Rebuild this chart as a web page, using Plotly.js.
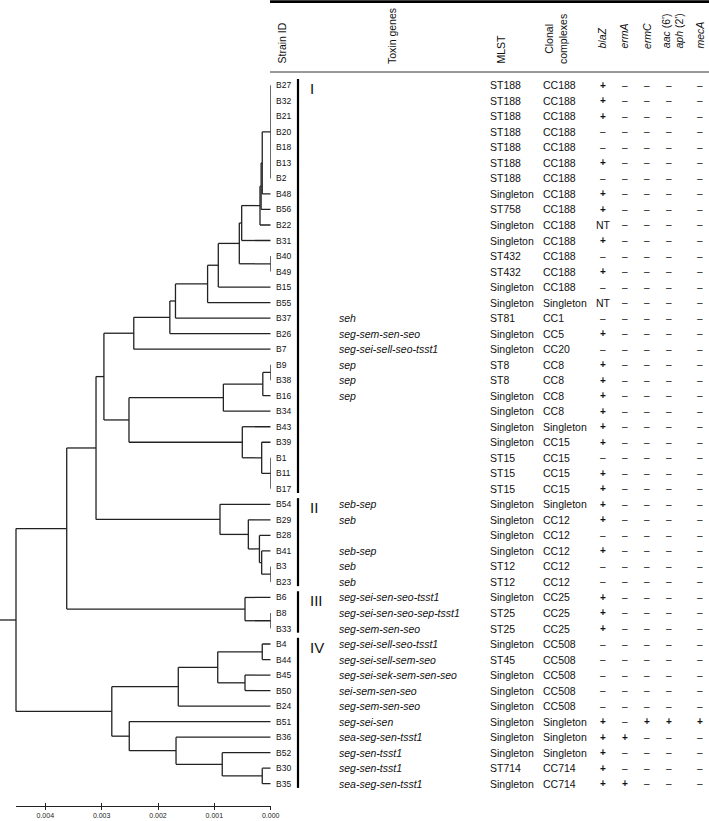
<!DOCTYPE html>
<html>
<head>
<meta charset="utf-8">
<script src="https://cdn.plot.ly/plotly-3.0.1.min.js"></script>
<style>html,body{margin:0;padding:0;background:#fff;}#chart{width:709px;height:821px;}</style>
</head>
<body>
<div id="chart"></div>
<script>
// ---------------- DATA ----------------
const strains = ['B27','B32','B21','B20','B18','B13','B2','B48','B56','B22','B31','B40','B49','B15','B55','B37','B26','B7','B9','B38','B16','B34','B43','B39','B1','B11','B17','B54','B29','B28','B41','B3','B23','B6','B8','B33','B4','B44','B45','B50','B24','B51','B36','B52','B30','B35'];

const toxinGenes = ['','','','','','','','','','','','','','','','seh','seg-sem-sen-seo','seg-sei-sell-seo-tsst1','sep','sep','sep','','','','','','','seb-sep','seb','','seb-sep','seb','seb','seg-sei-sen-seo-tsst1','seg-sei-sen-seo-sep-tsst1','seg-sem-sen-seo','seg-sei-sell-seo-tsst1','seg-sei-sell-sem-seo','seg-sei-sek-sem-sen-seo','sei-sem-sen-seo','seg-sem-sen-seo','seg-sei-sen','sea-seg-sen-tsst1','seg-sen-tsst1','seg-sen-tsst1','sea-seg-sen-tsst1'];

const mlst = ['ST188','ST188','ST188','ST188','ST188','ST188','ST188','Singleton','ST758','Singleton','Singleton','ST432','ST432','Singleton','Singleton','ST81','Singleton','Singleton','ST8','ST8','Singleton','Singleton','Singleton','Singleton','ST15','ST15','ST15','Singleton','Singleton','Singleton','Singleton','ST12','ST12','Singleton','ST25','ST25','Singleton','ST45','Singleton','Singleton','Singleton','Singleton','Singleton','Singleton','ST714','Singleton'];

const clonalComplexes = ['CC188','CC188','CC188','CC188','CC188','CC188','CC188','CC188','CC188','CC188','CC188','CC188','CC188','CC188','Singleton','CC1','CC5','CC20','CC8','CC8','CC8','CC8','Singleton','CC15','CC15','CC15','CC15','Singleton','CC12','CC12','CC12','CC12','CC12','CC25','CC25','CC25','CC508','CC508','CC508','CC508','CC508','Singleton','Singleton','Singleton','CC714','CC714'];

const blaZ = ['+','+','+','-','-','+','-','+','+','NT','+','-','+','-','NT','-','+','-','+','+','+','+','+','+','-','+','+','+','+','-','+','-','-','+','+','+','-','-','-','-','-','+','+','+','+','+'];
const ermA = ['-','-','-','-','-','-','-','-','-','-','-','-','-','-','-','-','-','-','-','-','-','-','-','-','-','-','-','-','-','-','-','-','-','-','-','-','-','-','-','-','-','-','+','-','-','+'];
const ermC = ['-','-','-','-','-','-','-','-','-','-','-','-','-','-','-','-','-','-','-','-','-','-','-','-','-','-','-','-','-','-','-','-','-','-','-','-','-','-','-','-','-','+','-','-','-','-'];
const aacAph = ['-','-','-','-','-','-','-','-','-','-','-','-','-','-','-','-','-','-','-','-','-','-','-','-','-','-','-','-','-','-','-','-','-','-','-','-','-','-','-','-','-','+','-','-','-','-'];
const mecA = ['-','-','-','-','-','-','-','-','-','-','-','-','-','-','-','-','-','-','-','-','-','-','-','-','-','-','-','-','-','-','-','-','-','-','-','-','-','-','-','-','-','+','-','-','-','-'];

// tree (UPGMA-like), internal nodes listed bottom-up with their heights
const nodeNames = ['c7','n1','n2','n3','nA','c2','nB','nC','nD','nE','nF','nG','c9','n9','n10','c1','n11','n12','n13','nH','c3','n14','n15','n16','n17','nI','c8','n18','nJ','n19','n20','n21','n22','n23','n24','n25','n26','n27','root'];
const nodeChildren = [
  ['B27','B32','B21','B20','B18','B13','B2'],['c7','B48'],['n1','B56'],['n2','B22'],['n3','B31'],['B40','B49'],['nA','c2'],['nB','B15'],['nC','B55'],['nD','B37'],['nE','B26'],['nF','B7'],
  ['B9','B38'],['c9','B16'],['n9','B34'],['B1','B11','B17'],['B39','c1'],['B43','n11'],['n10','n12'],['nG','n13'],
  ['B3','B23'],['B41','c3'],['B28','n14'],['B29','n15'],['B54','n16'],['nH','n17'],
  ['B8','B33'],['B6','c8'],['nI','n18'],
  ['B4','B44'],['B45','B50'],['n19','n20'],['n21','B24'],['B30','B35'],['B52','n23'],['B36','n24'],['B51','n25'],['n22','n26'],['nJ','n27']];
const nodeHeights = [0,0.00015,0.00017,0.00019,0.000515,0,0.000557,0.00093,0.00112,0.00169,0.00179,0.00243,
  0,0.00014,0.00084,0,0.00016,0.000504,0.002515,0.00296,
  0,0.00016,0.0002,0.000397,0.0009,0.0031,
  0,0.000456,0.00362,
  0.00015,0.000456,0.00094,0.00164,0.00015,0.00086,0.00168,0.00251,0.00282,0.00452];

const groupNames = ['I','II','III','IV'];
const groupFirst = ['B27','B54','B6','B4'];
const groupLast = ['B17','B23','B33','B35'];

const scaleTicks = [0.004,0.003,0.002,0.001,0];
const scaleTickText = ['0.004','0.003','0.002','0.001','0.000'];

const headers = ['Strain ID','Toxin genes','MLST','Clonal<br>complexes','<i>blaZ</i>','<i>ermA</i>','<i>ermC</i>','<i>aac</i> (6\')<br><i>aph</i> (2\')','<i>mecA</i>'];

// ---------------- BUILD ----------------
const W = 709, H = 821;
const FONT = 'Liberation Sans, Arial, sans-serif';
const TXT = '#111';

const pos = {};
strains.forEach((s, i) => { pos[s] = {h: 0, y: i}; });
const lx = [], ly = [];
nodeNames.forEach((nm, i) => {
  const ch = nodeChildren[i], h = nodeHeights[i];
  const ys = ch.map(c => pos[c].y);
  const y0 = Math.min(...ys), y1 = Math.max(...ys);
  lx.push(h, h, null); ly.push(y0, y1, null);
  ch.forEach(c => { if (pos[c].h !== h) { lx.push(pos[c].h, h, null); ly.push(pos[c].y, pos[c].y, null); } });
  pos[nm] = {h: h, y: (y0 + y1) / 2};
});
const rootStub = 0.000284;
lx.push(pos.root.h, pos.root.h + rootStub); ly.push(pos.root.y, pos.root.y);

const treeRangeMax = pos.root.h + rootStub;
const leafPx = 270.7;
const rowTop = 85.3, rowStep = 15.52;
const yTop = -rowTop / rowStep, yBot = (H - rowTop) / rowStep;

const traces = [
  {x: lx, y: ly, mode: 'lines', line: {color: '#222', width: 1.3}, hoverinfo: 'skip', showlegend: false, xaxis: 'x', yaxis: 'y'},
  {x: [], y: [], mode: 'markers', showlegend: false, xaxis: 'x2', yaxis: 'y'},
  {x: [], y: [], mode: 'markers', showlegend: false, xaxis: 'x3', yaxis: 'y'}
];

const ann = [];
const px = v => v / W;
function add(text, xPix, row, opts) {
  ann.push(Object.assign({text: text, x: px(xPix), xref: 'paper', y: row, yref: 'y', showarrow: false,
    xanchor: 'left', yanchor: 'middle', font: {family: FONT, size: 10.5, color: TXT}}, opts || {}));
}
const sym = v => v === '+' ? '<b>+</b>' : (v === '-' ? '–' : v);
strains.forEach((s, i) => {
  add(s, 274, i, {font: {family: FONT, size: 8.5, color: TXT}});
  if (toxinGenes[i]) add('<i>' + toxinGenes[i] + '</i>', 337, i);
  add(mlst[i], 488, i);
  add(clonalComplexes[i], 541, i);
  [[blaZ, 603], [ermA, 625], [ermC, 647], [aacAph, 669], [mecA, 700]].forEach(([arr, x]) => {
    add(sym(arr[i]), x, i, {xanchor: 'center', font: {family: FONT, size: arr[i] === 'NT' ? 10.5 : 10, color: TXT}});
  });
});
groupNames.forEach((g, k) => {
  add(g, 308, strains.indexOf(groupFirst[k]) + 0.2, {font: {family: FONT, size: 15, color: TXT}});
});
const headerX = [281, 392, 500, 556, 602, 624, 647, 673, 700];
const headerBottom = [66, 66, 66, 66, 51, 51, 51, 51, 51];
headers.forEach((h, k) => {
  ann.push({text: h, textangle: -90, x: px(headerX[k]), xref: 'paper', y: 1 - headerBottom[k] / H, yref: 'paper',
    xanchor: 'center', yanchor: 'bottom', showarrow: false, align: 'center',
    font: {family: FONT, size: 10.5, color: TXT}});
});

const shapes = [
  {type: 'line', xref: 'paper', yref: 'paper', x0: px(270), x1: 1, y0: 1 - 1.6 / H, y1: 1 - 1.6 / H, line: {color: '#000', width: 2.6}},
  {type: 'line', xref: 'paper', yref: 'paper', x0: px(270), x1: 1, y0: 1 - 72 / H, y1: 1 - 72 / H, line: {color: '#333', width: 1}}
];
groupNames.forEach((g, k) => {
  shapes.push({type: 'line', xref: 'paper', yref: 'y', x0: px(298), x1: px(298),
    y0: strains.indexOf(groupFirst[k]) - 0.4, y1: strains.indexOf(groupLast[k]) + 0.27, line: {color: '#000', width: 2.2}});
});

const axisY = (H - 806) / H;
const layout = {
  width: W, height: H, margin: {l: 0, r: 0, t: 0, b: 0},
  paper_bgcolor: '#fff', plot_bgcolor: 'rgba(0,0,0,0)', showlegend: false,
  xaxis: {domain: [0, px(leafPx)], range: [treeRangeMax, 0], visible: false, fixedrange: true},
  yaxis: {domain: [0, 1], range: [yBot, yTop], visible: false, fixedrange: true},
  xaxis2: {domain: [px(16), px(leafPx)], range: [pos.root.h, 0], anchor: 'free', position: axisY,
    showline: true, linecolor: '#222', linewidth: 1, showgrid: false, zeroline: false,
    ticks: 'outside', ticklen: 3, tickwidth: 1, tickcolor: '#222',
    tickvals: scaleTicks, ticktext: scaleTickText, tickfont: {family: FONT, size: 7, color: '#222'}},
  xaxis3: {overlaying: 'x2', matches: 'x2', anchor: 'free', position: axisY,
    showline: false, showgrid: false, zeroline: false, ticks: 'inside', ticklen: 3, tickwidth: 1, tickcolor: '#222',
    tickvals: scaleTicks, showticklabels: false},
  annotations: ann, shapes: shapes
};
Plotly.newPlot('chart', traces, layout, {staticPlot: true, displayModeBar: false});
</script>
</body>
</html>
